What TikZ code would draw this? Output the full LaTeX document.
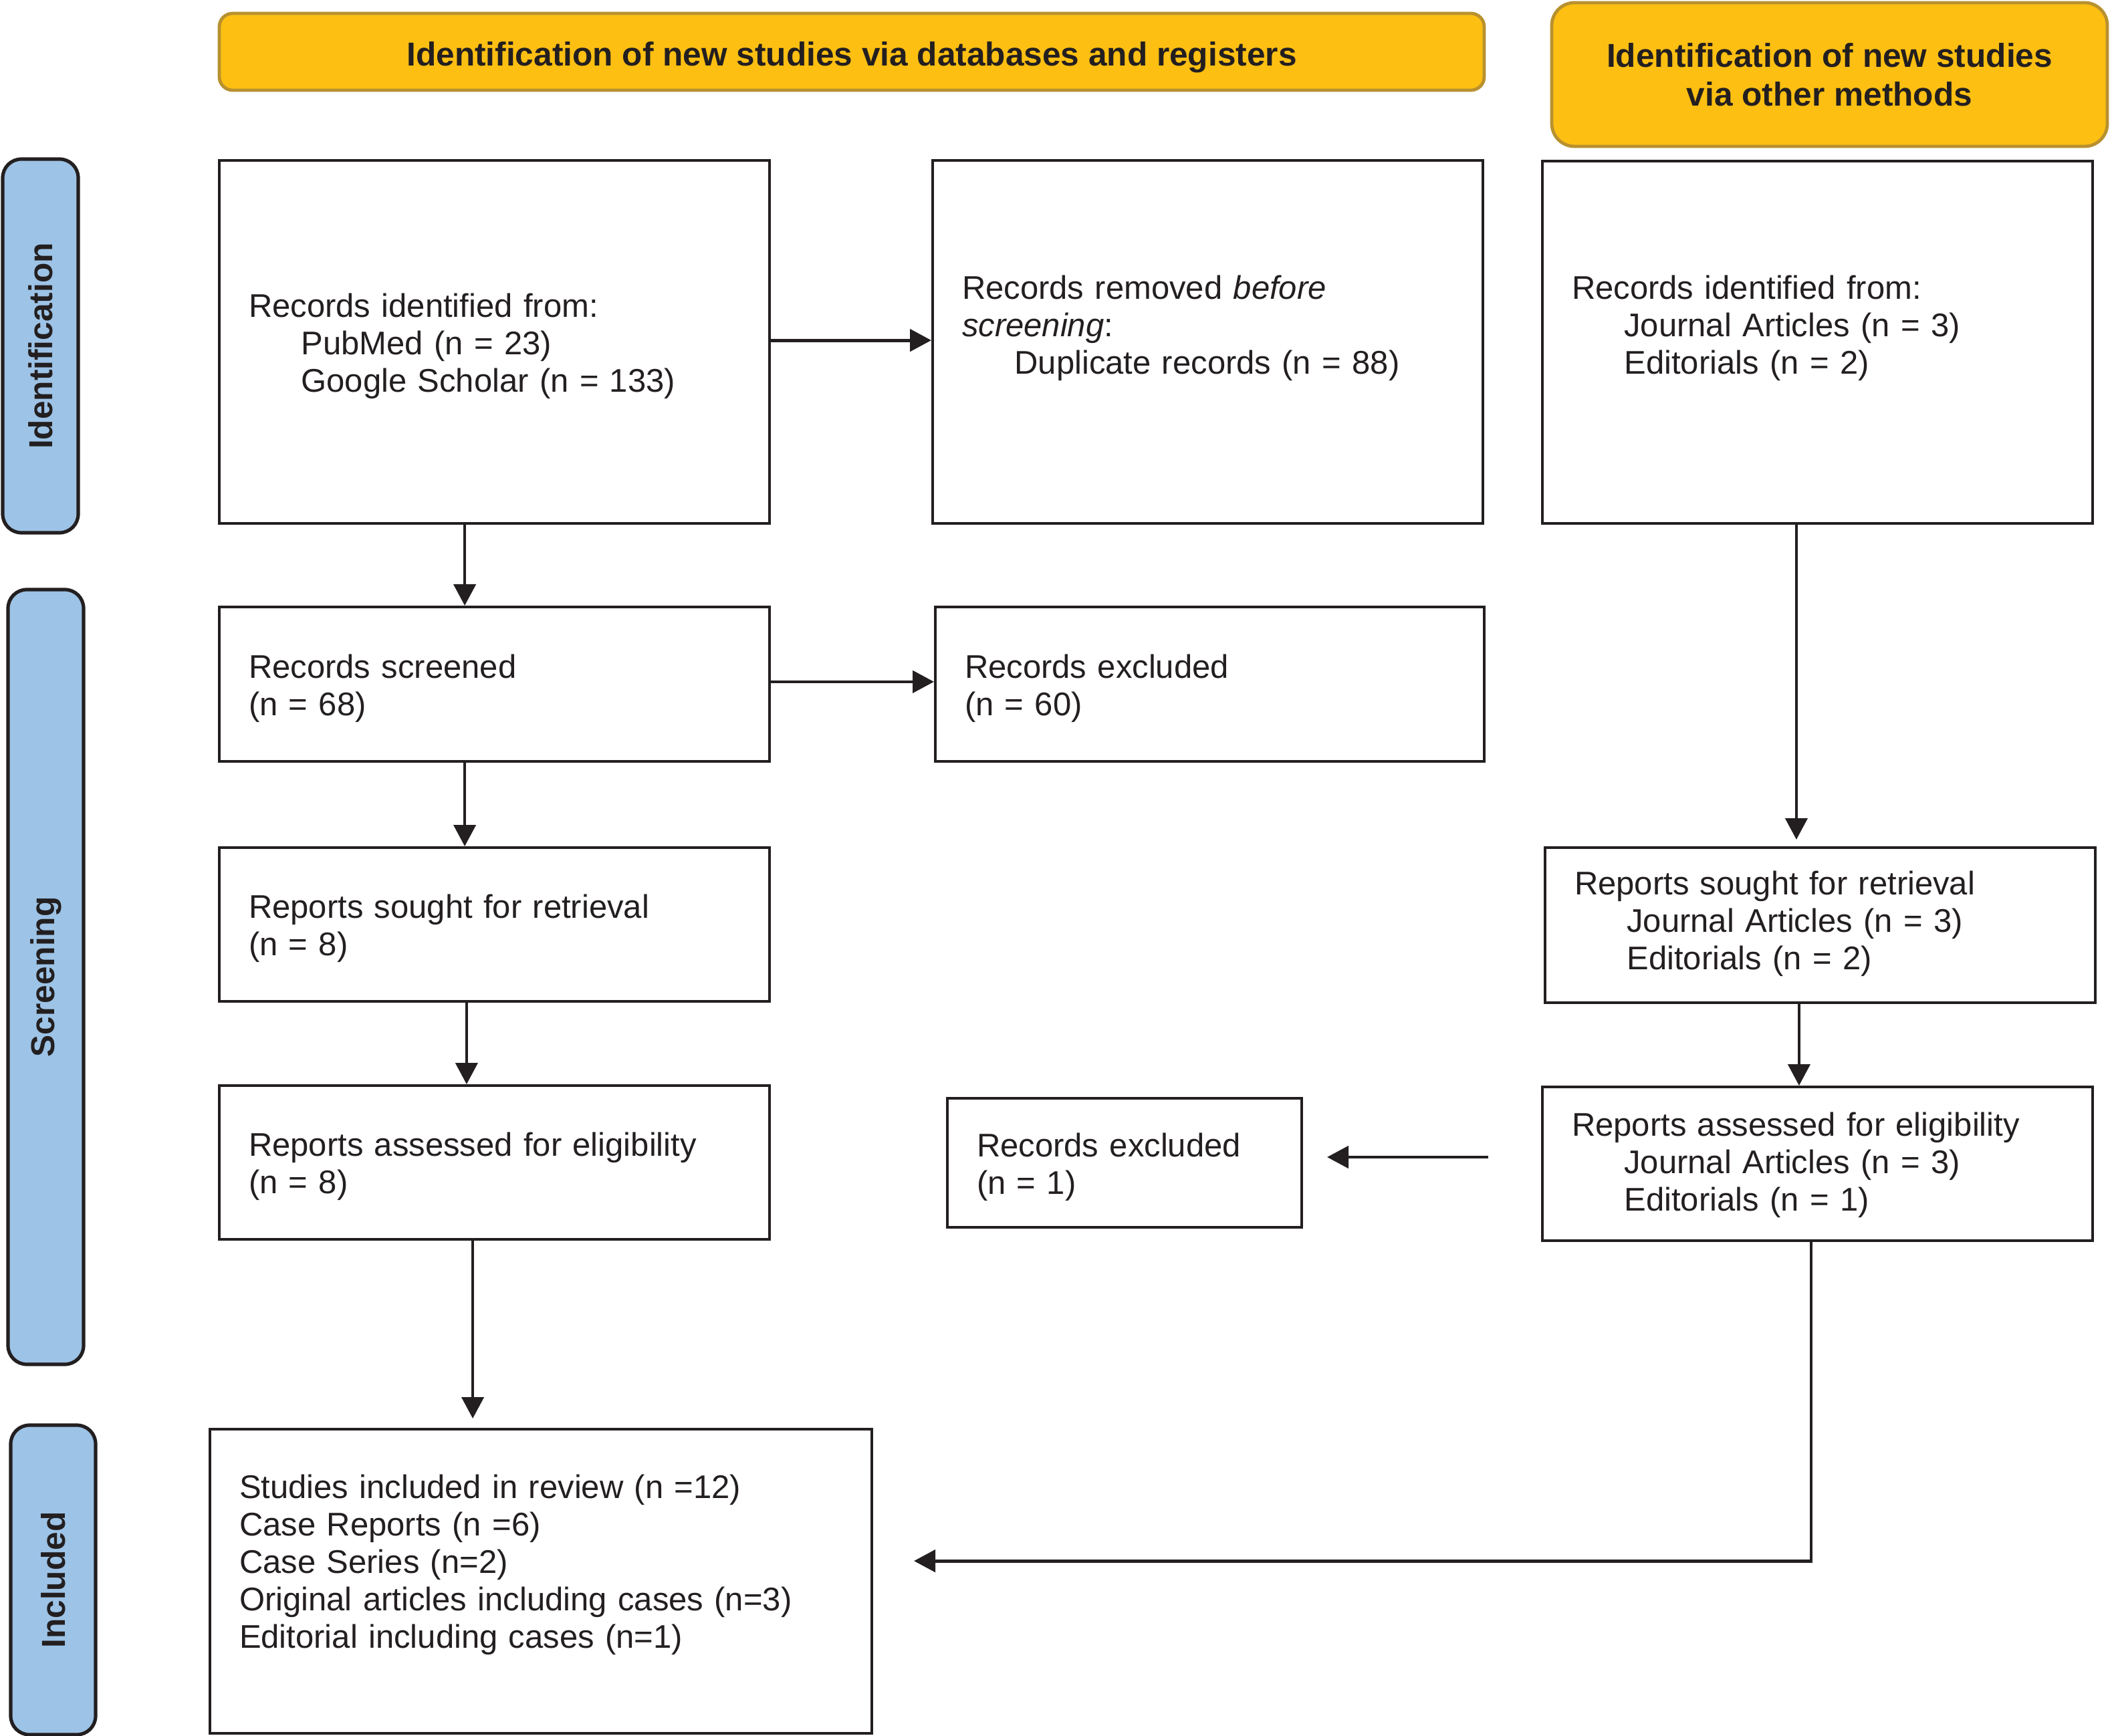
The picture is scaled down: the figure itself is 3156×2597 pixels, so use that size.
\documentclass[tikz,border=0pt]{standalone}
\usepackage{fontspec}
\setmainfont{Liberation Sans}
\usetikzlibrary{arrows.meta}
\definecolor{ink}{HTML}{231F20}
\definecolor{gold}{HTML}{FDBF12}
\definecolor{goldline}{HTML}{B8912F}
\definecolor{sideblue}{HTML}{9DC3E6}
\newcommand{\ind}{\hspace*{19.6pt}}
\newcommand{\fin}[1]{\par\vspace*{#1}}
\tikzset{
  box/.style={draw=ink, line width=1pt, fill=white, rectangle, align=left,
    inner xsep=11pt, inner ysep=0pt, font=\fontsize{12.25}{14}\selectfont, text=ink},
  head/.style={draw=goldline, line width=1.2pt, fill=gold,
    font=\bfseries\fontsize{12.4}{14.5}\selectfont, text=ink, align=center, inner sep=0pt},
  side/.style={draw=ink, line width=1.3pt, fill=sideblue, rounded corners=7pt,
    font=\bfseries\fontsize{12.4}{14}\selectfont, text=ink, rotate=90, inner sep=0pt},
  arr/.style={draw=ink, line width=1.1pt, -{Triangle[length=8pt,width=8.25pt]}},
}
\begin{document}
\begin{tikzpicture}[x=0.25pt,y=-0.25pt]
\useasboundingbox (0,0) rectangle (3156,2597);

% headings
\node[head, rounded corners=5pt, minimum width=473pt, minimum height=28.75pt] (Y1) at (1274,77.5)
  {\raisebox{-2pt}[\height][\depth]{Identification of new studies via databases and registers}};
\node[head, rounded corners=8.5pt, minimum width=207.75pt, minimum height=53.75pt] (Y2) at (2736.5,111.5)
  {Identification of new studies\\via other methods};

% side labels
\node[side, minimum width=139.75pt, minimum height=28.25pt] (S1) at (60.5,517.5) {Identification};
\node[side, minimum width=289.75pt, minimum height=28.25pt] (S2) at (68.5,1461.5) {Screening};
\node[side, minimum width=115.75pt, minimum height=31.75pt] (S3) at (79.5,2363.5) {Included};

% boxes
\node[box, minimum width=205.75pt, minimum height=135.75pt, text width=183.75pt] (A) at (739.5,511.5)
  {Records identified from:\\\ind PubMed (n = 23)\\\ind Google Scholar (n = 133)\fin{-3pt}};
\node[box, minimum width=205.75pt, minimum height=135.75pt, text width=183.75pt] (B) at (1806.5,511.5)
  {Records removed \textit{before}\\\textit{screening}:\\\ind Duplicate records (n = 88)\fin{10.25pt}};
\node[box, minimum width=205.75pt, minimum height=135.5pt, text width=183.75pt] (C) at (2718.5,512)
  {Records identified from:\\\ind Journal Articles (n = 3)\\\ind Editorials (n = 2)\fin{10.75pt}};
\node[box, minimum width=205.75pt, minimum height=57.75pt, text width=183.75pt] (D) at (739.5,1023.5)
  {Records screened\\(n = 68)\fin{-3pt}};
\node[box, minimum width=205.25pt, minimum height=57.75pt, text width=183.25pt] (E) at (1809.5,1023.5)
  {Records excluded\\(n = 60)\fin{-3pt}};
\node[box, minimum width=205.75pt, minimum height=57.5pt, text width=183.75pt] (F) at (739.5,1383)
  {Reports sought for retrieval\\(n = 8)\fin{-3pt}};
\node[box, minimum width=205.75pt, minimum height=58pt, text width=183.75pt] (G) at (2722.5,1384)
  {Reports sought for retrieval\\\ind Journal Articles (n = 3)\\\ind Editorials (n = 2)\fin{1pt}};
\node[box, minimum width=205.75pt, minimum height=57.5pt, text width=183.75pt] (H) at (739.5,1739)
  {Reports assessed for eligibility\\(n = 8)\fin{-3pt}};
\node[box, minimum width=132.5pt, minimum height=48.25pt, text width=110.5pt] (I) at (1682,1739.5)
  {Records excluded\\(n = 1)\fin{-3pt}};
\node[box, minimum width=205.75pt, minimum height=57.5pt, text width=183.75pt] (J) at (2718.5,1741)
  {Reports assessed for eligibility\\\ind Journal Articles (n = 3)\\\ind Editorials (n = 1)\fin{-1pt}};
\node[box, minimum width=247.5pt, minimum height=113.75pt, text width=225.5pt] (K) at (809,2365.5)
  {Studies included in review (n =12)\\Case Reports (n =6)\\Case Series (n=2)\\Original articles including cases (n=3)\\Editorial including cases (n=1)\fin{12.25pt}};

% connectors
\draw[arr, line width=1.25pt] ([yshift=0.6pt]A.east) -- ([yshift=0.6pt]A.east -| B.west);
\draw[arr, line width=1.2pt] ([yshift=0.9pt]D.east) -- ([yshift=0.9pt]D.east -| E.west);
\draw[arr] ([xshift=-11.1pt]A.south) -- ([xshift=-11.1pt]A.south |- D.north);
\draw[arr] ([xshift=-11.1pt]D.south) -- ([xshift=-11.1pt]D.south |- F.north);
\draw[arr] ([xshift=-10.4pt]F.south) -- ([xshift=-10.4pt]F.south |- H.north);
\draw[arr, shorten >=3.5pt] ([xshift=-8.1pt]H.south) -- ([xshift=-8.1pt]H.south |- K.north);
\draw[arr, shorten >=2.5pt] ([xshift=-7.9pt]C.south) -- ([xshift=-7.9pt]C.south |- G.north);
\draw[arr] ([xshift=-7.9pt]G.south) -- ([xshift=-7.9pt]G.south |- J.north);
\draw[arr, line width=1.2pt, shorten <=19.75pt, shorten >=9pt] ([yshift=2.5pt]J.west) -- ([yshift=2.5pt]J.west -| I.east);
\draw[arr, line width=1.2pt, shorten >=15.25pt] ([xshift=-2.4pt]J.south) |- ([yshift=7.6pt]K.east);
\end{tikzpicture}
\end{document}
